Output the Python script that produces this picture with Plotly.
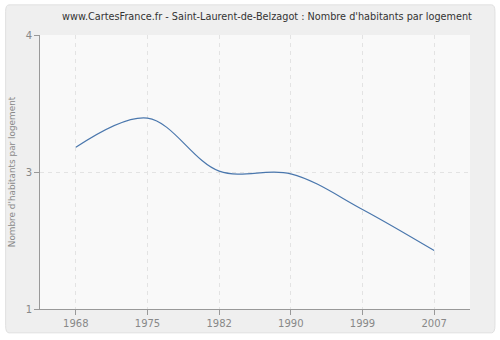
import plotly.graph_objects as go

years = ["1968", "1975", "1982", "1990", "1999", "2007"]
values = [2.77, 3.09, 2.51, 2.48, 2.09, 1.64]
tick_vals = [1, 2.5, 4]
tick_text = ["1", "3", "4"]

fig = go.Figure()
fig.add_trace(go.Scatter(
    x=years, y=values, mode="lines",
    line=dict(color="#4a77ad", width=1.2, shape="spline", smoothing=1),
    hoverinfo="skip", showlegend=False,
))

font = "DejaVu Sans, Verdana, sans-serif"
fig.update_layout(
    width=500, height=340,
    margin=dict(l=40, r=30, t=35, b=31),
    paper_bgcolor="white",
    plot_bgcolor="#f9f9f9",
    font=dict(family=font, size=10, color="#888888"),
    title=dict(text="www.CartesFrance.fr - Saint-Laurent-de-Belzagot : Nombre d'habitants par logement",
               x=0.534, xref="container", xanchor="center", y=0.95, yanchor="middle",
               font=dict(family=font, size=9.7, color="#333333")),
)
# grey rounded panel (pixel offsets expressed relative to the plot area)
fig.add_shape(type="path", xref="paper", yref="paper", layer="below",
              path="M -0.072,-0.087 L 1.05,-0.087 Q 1.058,-0.087 1.058,-0.06 L 1.058,1.085 "
                   "Q 1.058,1.11 1.05,1.11 L -0.072,1.11 Q -0.08,1.11 -0.08,1.085 L -0.08,-0.06 "
                   "Q -0.08,-0.087 -0.072,-0.087 Z",
              fillcolor="#efefef", line=dict(color="#e0e0e0", width=1))
fig.add_shape(type="rect", xref="x domain", yref="y domain", x0=0, x1=1, y0=0, y1=1,
              layer="below", fillcolor="#f9f9f9", line=dict(width=0))
fig.update_xaxes(
    type="category", range=[-0.5, 5.5],
    showgrid=True, gridcolor="#e3e3e3", griddash="4px,4px", gridwidth=1,
    showline=True, linecolor="#999999", linewidth=1,
    ticks="outside", ticklen=5, tickcolor="#999999",
    tickfont=dict(size=10, color="#888888"), zeroline=False,
)
fig.update_yaxes(
    range=[1, 4], tickvals=tick_vals, ticktext=tick_text,
    showgrid=True, gridcolor="#e3e3e3", griddash="4px,4px", gridwidth=1,
    showline=True, linecolor="#999999", linewidth=1,
    ticks="outside", ticklen=5, tickcolor="#999999",
    tickfont=dict(size=10, color="#888888"), zeroline=False,
    title=dict(text="Nombre d'habitants par logement", font=dict(size=8.9, color="#888888"), standoff=8),
)
fig.write_html("out.html")
